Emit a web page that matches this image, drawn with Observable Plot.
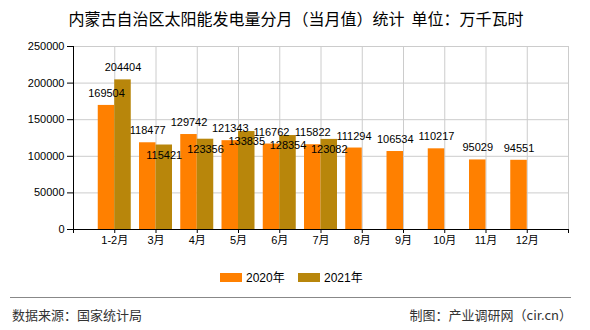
<!DOCTYPE html>
<html>
<head>
<meta charset="utf-8">
<script src="https://cdn.jsdelivr.net/npm/d3@7"></script>
<script src="https://cdn.jsdelivr.net/npm/@observablehq/plot@0.6"></script>
<style>
  html, body { margin: 0; padding: 0; background: #fff; }
  #wrap { position: relative; width: 590px; height: 330px; overflow: hidden;
          font-family: "Liberation Sans", "Noto Sans CJK SC", sans-serif; color: #000; }
  #title { position: absolute; left: 0; top: 8px; width: 592px; text-align: center;
           font-size: 16px; line-height: 20px; font-family: "Noto Sans CJK SC", sans-serif; white-space: pre; }
  #chart { position: absolute; left: 0; top: 36px; }
  .lg { position: absolute; font-size: 12px; line-height: 14px; top: 271px; font-family: "Liberation Sans", "Noto Sans CJK SC", sans-serif; }
  .sw { position: absolute; top: 273px; width: 22px; height: 9px; }
  #sep { position: absolute; left: 10px; top: 297px; width: 561px; height: 0; border-top: 1.5px solid #888; }
  .ft { position: absolute; top: 307px; font-size: 13px; line-height: 16px; color: #333;
        font-family: "Noto Sans CJK SC", sans-serif; }
</style>
</head>
<body>
<div id="wrap">
  <div id="title">内蒙古自治区太阳能发电量分月（当月值）统计  单位：万千瓦时</div>
  <div id="chart"></div>
  <div class="sw" style="left:220px;background:#FF8000"></div>
  <div class="lg" style="left:246px">2020年</div>
  <div class="sw" style="left:298px;background:#B8860B"></div>
  <div class="lg" style="left:324px">2021年</div>
  <div id="sep"></div>
  <div class="ft" style="left:12px">数据来源：国家统计局</div>
  <div class="ft" style="right:18px">制图：产业调研网（cir.cn）</div>
</div>
<script>
const months = ["1-2月","3月","4月","5月","6月","7月","8月","9月","10月","11月","12月"];
const v2020 = [169504,118477,129742,121343,116762,115822,111294,106534,110217,95029,94551];
const v2021 = [204404,115421,123356,133835,128354,123082];
const yTicks = [0,50000,100000,150000,200000,250000];
const seriesNames = ["2020年","2021年"];
const colors = ["#FF8000","#B8860B"];

const d2020 = v2020.map((v, k) => ({i: k + 1, v, other: v2021[k]}));
const d2021 = v2021.map((v, k) => ({i: k + 1, v, other: v2020[k]}));
const xTicks = d3.range(0, months.length + 2);
const below = d => d.v - d.other < 20000;

const chart = Plot.plot({
  width: 590,
  height: 218,
  marginTop: 10,
  marginBottom: 25,
  marginLeft: 73,
  marginRight: 22,
  style: {fontFamily: "Liberation Sans, Noto Sans CJK SC, sans-serif", fontSize: "11px", color: "#000", background: "transparent"},
  x: {type: "linear", domain: [0, months.length + 1]},
  y: {domain: [0, 250000]},
  marks: [
    Plot.gridX(xTicks.slice(1), {stroke: "#ccc", strokeOpacity: 1}),
    Plot.gridY(yTicks.slice(1), {stroke: "#ccc", strokeOpacity: 1}),
    Plot.rectY(d2020, {x1: d => d.i - 0.4, x2: d => d.i, y: "v", fill: colors[0]}),
    Plot.rectY(d2021, {x1: d => d.i, x2: d => d.i + 0.4, y: "v", fill: colors[1]}),
    Plot.text(d2020, {x: d => d.i - 0.2, y: "v", text: d => String(d.v), dy: -12, fill: "#000", fontSize: 11}),
    Plot.text(d2021.filter(d => !below(d)), {x: d => d.i + 0.2, y: "v", text: d => String(d.v), dy: -12, fill: "#000", fontSize: 11}),
    Plot.text(d2021.filter(below), {x: d => d.i + 0.2, y: "v", text: d => String(d.v), dy: 10, fill: "#000", fontSize: 11}),
    Plot.ruleX([0], {stroke: "#000"}),
    Plot.ruleY([0], {stroke: "#000"}),
    Plot.axisX(xTicks, {tickFormat: i => months[i - 1] ?? "", tickSize: 4, tickPadding: 3, label: null, fontSize: 11, stroke: "#000"}),
    Plot.axisY(yTicks, {tickFormat: d3.format("d"), tickSize: 6, tickPadding: 3, label: null, fontSize: 11, stroke: "#000"})
  ]
});
document.getElementById("chart").append(chart);
</script>
</body>
</html>
